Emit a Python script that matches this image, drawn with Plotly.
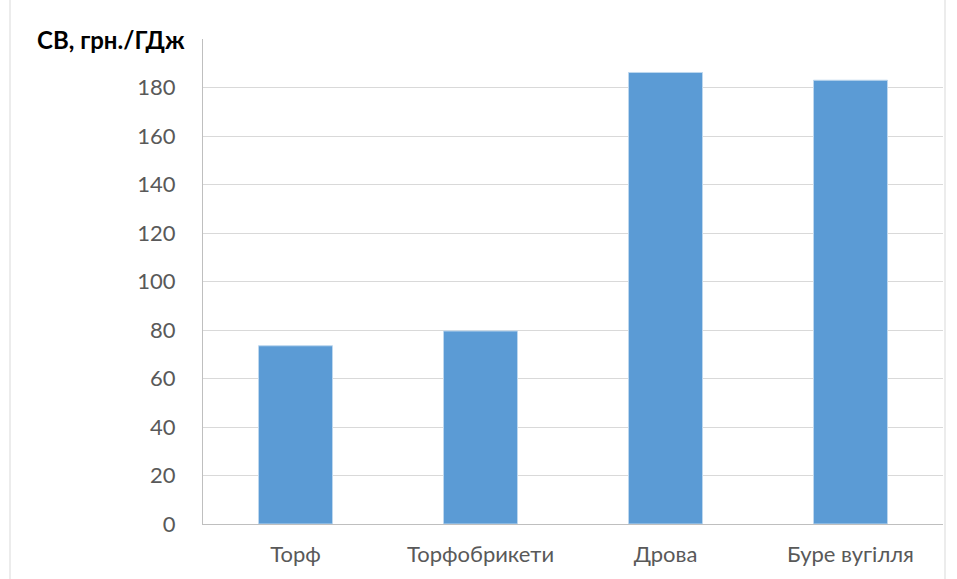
import plotly.graph_objects as go

# Specific fuel cost by fuel type
categories = ["Торф", "Торфобрикети", "Дрова", "Буре вугілля"]
values = [73.5, 79.6, 186.2, 183.0]

y_tickvals = [0, 20, 40, 60, 80, 100, 120, 140, 160, 180, 200]
y_ticktext = ["0", "20", "40", "60", "80", "100", "120", "140", "160", "180", ""]
y_title = "СВ, грн./ГДж"

W, H = 957, 579
L, R, T, B = 203, 14, 39, 55
pw, ph = W - L - R, H - T - B

fig = go.Figure(
    go.Bar(
        x=categories,
        y=values,
        marker=dict(color="#5B9BD5", line=dict(color="#BDD7EE", width=1)),
        hoverinfo="x+y",
    )
)

fig.update_layout(
    width=W,
    height=H,
    margin=dict(l=L, r=R, t=T, b=B),
    paper_bgcolor="white",
    plot_bgcolor="white",
    bargap=0.6,
    showlegend=False,
    font=dict(family="Lato, Calibri, sans-serif", size=22, color="#595959"),
    xaxis=dict(
        showgrid=False,
        showline=True,
        linecolor="#BFBFBF",
        linewidth=1,
        ticks="",
        ticklabelstandoff=11,
        tickfont=dict(size=22, color="#595959"),
    ),
    yaxis=dict(
        range=[0, 200],
        tickvals=y_tickvals,
        ticktext=y_ticktext,
        showgrid=True,
        gridcolor="#D9D9D9",
        gridwidth=1,
        zeroline=False,
        showline=True,
        linecolor="#BFBFBF",
        linewidth=1,
        ticks="",
        ticklabelstandoff=22,
        tickfont=dict(size=22, color="#595959"),
    ),
)

# axis title placed where the top tick label would sit
fig.add_annotation(
    text=f"<b>{y_title}</b>",
    xref="paper", yref="paper",
    x=0, y=1,
    xanchor="right", yanchor="middle",
    xshift=-16,
    showarrow=False,
    font=dict(size=24, color="black"),
)

# light frame around the chart area
fig.add_shape(
    type="rect",
    xref="paper", yref="paper",
    x0=(10 - L) / pw, x1=(945 - L) / pw,
    y0=(H - T - 600) / ph, y1=(H - T - 10) / ph,
    line=dict(color="#D9D9D9", width=1),
    fillcolor="rgba(0,0,0,0)",
    layer="below",
)

fig.write_html("out.html")
